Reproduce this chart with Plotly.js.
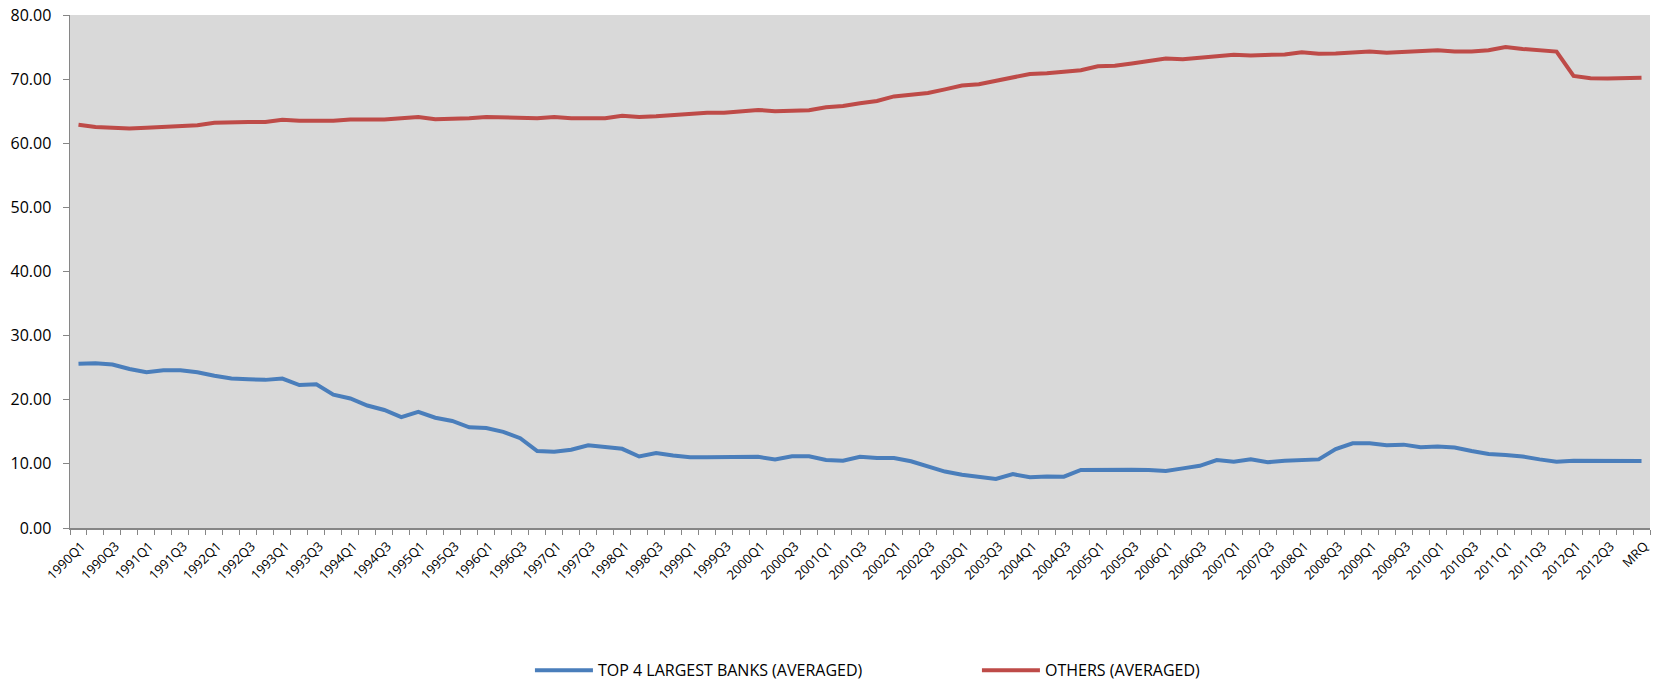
<!DOCTYPE html>
<html>
<head>
<meta charset="utf-8">
<script src="https://cdn.plot.ly/plotly-3.0.1.min.js"></script>
<style>
  html, body { margin: 0; padding: 0; background: #ffffff; }
  #chart { width: 1653px; height: 680px; }
</style>
</head>
<body>
<div id="chart"></div>
<script>
// Quarter categories (1990Q1 ... 2012Q4, then MRQ)
const quarters = [
  "1990Q1","1990Q2","1990Q3","1990Q4","1991Q1","1991Q2","1991Q3","1991Q4",
  "1992Q1","1992Q2","1992Q3","1992Q4","1993Q1","1993Q2","1993Q3","1993Q4",
  "1994Q1","1994Q2","1994Q3","1994Q4","1995Q1","1995Q2","1995Q3","1995Q4",
  "1996Q1","1996Q2","1996Q3","1996Q4","1997Q1","1997Q2","1997Q3","1997Q4",
  "1998Q1","1998Q2","1998Q3","1998Q4","1999Q1","1999Q2","1999Q3","1999Q4",
  "2000Q1","2000Q2","2000Q3","2000Q4","2001Q1","2001Q2","2001Q3","2001Q4",
  "2002Q1","2002Q2","2002Q3","2002Q4","2003Q1","2003Q2","2003Q3","2003Q4",
  "2004Q1","2004Q2","2004Q3","2004Q4","2005Q1","2005Q2","2005Q3","2005Q4",
  "2006Q1","2006Q2","2006Q3","2006Q4","2007Q1","2007Q2","2007Q3","2007Q4",
  "2008Q1","2008Q2","2008Q3","2008Q4","2009Q1","2009Q2","2009Q3","2009Q4",
  "2010Q1","2010Q2","2010Q3","2010Q4","2011Q1","2011Q2","2011Q3","2011Q4",
  "2012Q1","2012Q2","2012Q3","2012Q4","MRQ"
];

// TOP 4 LARGEST BANKS (AVERAGED)
const top4 = [
  25.6,25.7,25.5,24.8,24.3,24.6,24.6,24.3,23.75,23.3,
  23.2,23.1,23.3,22.3,22.4,20.8,20.2,19.1,18.4,17.3,
  18.1,17.2,16.7,15.7,15.6,15.0,14.0,12.0,11.9,12.2,
  12.9,12.55,12.35,11.15,11.7,11.3,11.05,11.05,11.05,11.2,
  11.1,10.7,11.2,11.2,10.6,10.5,11.1,10.9,10.9,10.4,
  9.6,8.8,8.3,7.95,7.65,8.4,7.9,8.05,8.0,9.05,
  9.1,9.1,9.1,9.05,8.9,9.3,9.7,10.6,10.35,10.7,
  10.25,10.5,10.6,10.7,12.3,13.2,13.2,12.9,13.0,12.6,
  12.7,12.55,12.0,11.55,11.4,11.15,10.7,10.35,10.5,10.45,
  10.4,10.45,10.45
];

// OTHERS (AVERAGED)
const others = [
  62.9,62.55,62.4,62.3,62.4,62.55,62.6,62.8,63.2,63.3,
  63.3,63.3,63.65,63.5,63.5,63.5,63.7,63.65,63.7,63.9,
  64.1,63.75,63.8,63.9,64.1,64.0,63.9,63.9,64.1,63.9,
  63.9,63.9,64.3,64.1,64.2,64.4,64.7,64.75,64.75,64.95,
  65.2,65.0,65.1,65.15,65.6,65.8,66.25,66.6,67.3,67.55,
  67.85,68.4,69.0,69.2,69.7,70.25,70.8,70.9,71.1,71.4,
  72.0,72.1,72.45,72.8,73.2,73.1,73.3,73.6,73.8,73.7,
  73.75,73.85,74.2,73.95,74.0,74.1,74.3,74.1,74.2,74.3,
  74.5,74.3,74.3,74.5,75.0,74.7,74.5,74.3,70.5,70.15,
  70.1,70.2,70.2
];

const seriesNames = ["TOP 4 LARGEST BANKS (AVERAGED)", "OTHERS (AVERAGED)"];
const yTicks = [0, 10, 20, 30, 40, 50, 60, 70, 80];

// every other quarter is labelled
const xTickText = quarters.map((q, i) => (i % 2 === 0 ? q : ""));

const FONT = "Open Sans, Lato, sans-serif";

const traces = [
  {
    x: quarters, y: top4, name: seriesNames[0], type: "scatter", mode: "lines",
    line: { color: "#4A7EBB", width: 4 }
  },
  {
    x: quarters, y: others, name: seriesNames[1], type: "scatter", mode: "lines",
    line: { color: "#BE4B48", width: 4 }
  }
];

const layout = {
  width: 1653,
  height: 680,
  margin: { l: 70, r: 3, t: 15, b: 152, pad: 0, autoexpand: false },
  paper_bgcolor: "#ffffff",
  plot_bgcolor: "#d9d9d9",
  font: { family: FONT, color: "#000000" },
  showlegend: true,
  legend: {
    orientation: "h",
    x: 0.2911, xanchor: "left",
    y: -0.2774, yanchor: "middle",
    itemwidth: 58,
    entrywidth: 374, entrywidthmode: "pixels",
    font: { family: FONT, size: 16, color: "#000000" },
    bgcolor: "rgba(0,0,0,0)"
  },
  xaxis: {
    type: "category",
    automargin: false,
    range: [-0.5, quarters.length - 0.5],
    tickmode: "array",
    tickvals: quarters,
    ticktext: xTickText,
    tickson: "boundaries",
    ticks: "outside",
    ticklen: 5,
    tickwidth: 1,
    tickcolor: "#868686",
    tickangle: -45,
    ticklabelshift: 3,
    ticklabelstandoff: 4,
    tickfont: { family: FONT, size: 13, color: "#000000" },
    showline: true,
    linecolor: "#868686",
    linewidth: 1.5,
    showgrid: false,
    zeroline: false,
    fixedrange: true
  },
  yaxis: {
    automargin: false,
    range: [0, 80],
    tickmode: "array",
    tickvals: yTicks,
    tickformat: ".2f",
    ticks: "outside",
    ticklen: 6,
    tickwidth: 1,
    tickcolor: "#868686",
    ticklabelstandoff: 8,
    tickfont: { family: FONT, size: 16, color: "#000000" },
    showline: true,
    linecolor: "#868686",
    linewidth: 1.5,
    showgrid: false,
    zeroline: false,
    fixedrange: true
  }
};

Plotly.newPlot("chart", traces, layout, { displayModeBar: false, staticPlot: true });
</script>
</body>
</html>
